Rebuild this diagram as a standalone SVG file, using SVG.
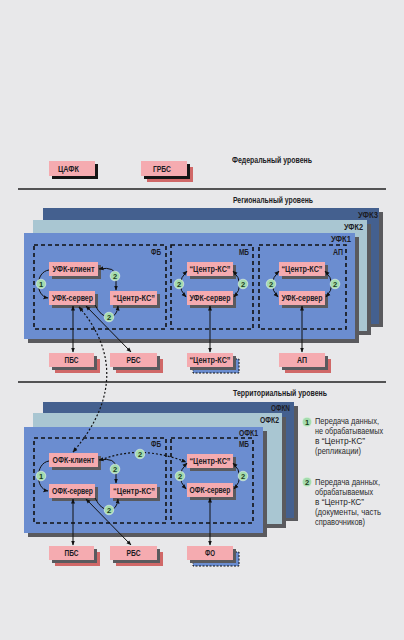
<svg xmlns="http://www.w3.org/2000/svg" width="404" height="640" viewBox="0 0 404 640">
<defs>
<marker id="ah" viewBox="0 0 10 10" refX="9" refY="5" markerWidth="5" markerHeight="5" orient="auto-start-reverse" markerUnits="userSpaceOnUse">
<path d="M0,1 L10,5 L0,9 Z" fill="#111"/>
</marker>
<style>
text{font-family:"Liberation Sans",Arial,sans-serif;fill:#1c1c24}
.lvl{font-size:9px;font-weight:bold}
.pl{font-size:9px;font-weight:bold}
.nt{font-size:8.6px;font-weight:bold}
.lg{font-size:9px;fill:#2a2a2a}
.bt{font-size:7.5px;font-weight:bold;text-anchor:middle;fill:#1a3a20}
.node{fill:#f5abb0}
.sh{fill:#5a5a5e}
.shk{fill:#151515}
.shr{fill:#d06868}
.shb{fill:#6b8dd0;stroke:#111;stroke-width:1;stroke-dasharray:2,1.5}
.dash{fill:none;stroke:#111;stroke-width:1.6;stroke-dasharray:4,3}
.c{fill:none;stroke:#111;stroke-width:1}
.cd{fill:none;stroke:#111;stroke-width:1.2;stroke-dasharray:2,2}
.badge{fill:#a5dcae;stroke:#e8f4ea;stroke-width:0.6}
.hl{stroke:#222;stroke-width:1.6}
</style>
</defs>
<rect width="404" height="640" fill="#e8e8ea"/>

<!-- level lines and labels -->
<g id="levels">
<text class="lvl" x="232" y="163" textLength="80" lengthAdjust="spacingAndGlyphs">Федеральный уровень</text>
<line class="hl" x1="18" y1="189" x2="386" y2="189"/>
<text class="lvl" x="233" y="203" textLength="80" lengthAdjust="spacingAndGlyphs">Региональный уровень</text>
<line class="hl" x1="18" y1="382" x2="386" y2="382"/>
<text class="lvl" x="233" y="396" textLength="94" lengthAdjust="spacingAndGlyphs">Территориальный уровень</text>
</g>

<!-- regional panels -->
<g id="ufk3"><rect x="47" y="212" width="336" height="115" class="sh"/><rect x="43" y="208" width="336" height="116" fill="#44608f"/><text class="pl" x="358" y="218" textLength="20" lengthAdjust="spacingAndGlyphs">УФК3</text></g>
<g id="ufk2"><rect x="37" y="224" width="334" height="111" class="sh"/><rect x="33" y="220" width="334" height="111" fill="#a9c6d2"/><text class="pl" x="344" y="230" textLength="19" lengthAdjust="spacingAndGlyphs">УФК2</text></g>
<g id="ufk1"><rect x="28" y="237" width="331" height="106" class="sh"/><rect x="24" y="233" width="331" height="106" fill="#6b8dd0"/><text class="pl" x="331" y="242" textLength="20" lengthAdjust="spacingAndGlyphs">УФК1</text></g>

<g id="r-fb"><rect x="34" y="245" width="132" height="84" class="dash"/><text class="pl" x="151" y="255" textLength="10" lengthAdjust="spacingAndGlyphs">ФБ</text></g>
<g id="r-mb"><rect x="171" y="245" width="82" height="84" class="dash"/><text class="pl" x="239" y="255" textLength="10" lengthAdjust="spacingAndGlyphs">МБ</text></g>
<g id="r-ap"><rect x="259" y="245" width="87" height="84" class="dash"/><text class="pl" x="333" y="255" textLength="10" lengthAdjust="spacingAndGlyphs">АП</text></g>

<!-- territorial panels -->
<g id="ofkn"><rect x="47" y="406" width="251" height="115" class="sh"/><rect x="43" y="402" width="251" height="116" fill="#44608f"/><text class="pl" x="271" y="411" textLength="19" lengthAdjust="spacingAndGlyphs">ОФКN</text></g>
<g id="ofk2"><rect x="37" y="417" width="249" height="111" class="sh"/><rect x="33" y="413" width="249" height="111" fill="#a9c6d2"/><text class="pl" x="260" y="423" textLength="19" lengthAdjust="spacingAndGlyphs">ОФК2</text></g>
<g id="ofk1"><rect x="28" y="431" width="239" height="106" class="sh"/><rect x="24" y="427" width="239" height="106" fill="#6b8dd0"/><text class="pl" x="239" y="436" textLength="19" lengthAdjust="spacingAndGlyphs">ОФК1</text></g>

<g id="t-fb"><rect x="34" y="438" width="132" height="85" class="dash"/><text class="pl" x="151" y="447" textLength="10" lengthAdjust="spacingAndGlyphs">ФБ</text></g>
<g id="t-mb"><rect x="171" y="438" width="82" height="85" class="dash"/><text class="pl" x="239" y="447" textLength="10" lengthAdjust="spacingAndGlyphs">МБ</text></g>

<!-- federal nodes -->
<g id="tsafk"><rect x="52" y="164" width="46" height="15" class="shk"/><rect x="49" y="161" width="46" height="15" class="node"/><text class="nt" x="58" y="172" textLength="21" lengthAdjust="spacingAndGlyphs">ЦАФК</text></g>
<g id="grbs"><rect x="147" y="167" width="46" height="15" class="shr"/><rect x="144" y="164" width="46" height="15" class="shk"/><rect x="141" y="161" width="46" height="15" class="node"/><text class="nt" x="153" y="172" textLength="18" lengthAdjust="spacingAndGlyphs">ГРБС</text></g>

<!-- regional nodes -->
<g id="r-client"><rect x="52" y="265" width="49" height="14" class="sh"/><rect x="49" y="262" width="49" height="14" class="node"/><text class="nt" x="52.5" y="272" textLength="42" lengthAdjust="spacingAndGlyphs">УФК-клиент</text></g>
<g id="r-server"><rect x="52" y="294" width="46" height="14" class="sh"/><rect x="49" y="291" width="46" height="14" class="node"/><text class="nt" x="52" y="301" textLength="41" lengthAdjust="spacingAndGlyphs">УФК-сервер</text></g>
<g id="r-cks"><rect x="113" y="294" width="47" height="14" class="sh"/><rect x="110" y="291" width="47" height="14" class="node"/><text class="nt" x="113" y="301" textLength="42" lengthAdjust="spacingAndGlyphs">“Центр-КС”</text></g>
<g id="r-mb-cks"><rect x="190" y="265" width="46" height="14" class="sh"/><rect x="187" y="262" width="46" height="14" class="node"/><text class="nt" x="189.5" y="272" textLength="41" lengthAdjust="spacingAndGlyphs">“Центр-КС”</text></g>
<g id="r-mb-server"><rect x="190" y="294" width="46" height="14" class="sh"/><rect x="187" y="291" width="46" height="14" class="node"/><text class="nt" x="189.5" y="301" textLength="41" lengthAdjust="spacingAndGlyphs">УФК-сервер</text></g>
<g id="r-ap-cks"><rect x="282" y="265" width="46" height="14" class="sh"/><rect x="279" y="262" width="46" height="14" class="node"/><text class="nt" x="281.5" y="272" textLength="41" lengthAdjust="spacingAndGlyphs">“Центр-КС”</text></g>
<g id="r-ap-server"><rect x="282" y="294" width="46" height="14" class="sh"/><rect x="279" y="291" width="46" height="14" class="node"/><text class="nt" x="281.5" y="301" textLength="41" lengthAdjust="spacingAndGlyphs">УФК-сервер</text></g>

<g id="r-pbs"><rect x="55" y="359" width="45" height="14" class="shr"/><rect x="52" y="356" width="45" height="14" class="sh"/><rect x="49" y="353" width="45" height="14" class="node"/><text class="nt" x="64.5" y="363" textLength="14" lengthAdjust="spacingAndGlyphs">ПБС</text></g>
<g id="r-rbs"><rect x="116" y="359" width="47" height="14" class="shr"/><rect x="113" y="356" width="47" height="14" class="sh"/><rect x="110" y="353" width="47" height="14" class="node"/><text class="nt" x="126.5" y="363" textLength="14" lengthAdjust="spacingAndGlyphs">РБС</text></g>
<g id="r-cks-out"><rect x="193" y="359" width="46" height="14" class="shb"/><rect x="190" y="356" width="46" height="14" class="sh"/><rect x="187" y="353" width="46" height="14" class="node"/><text class="nt" x="189.5" y="363" textLength="41" lengthAdjust="spacingAndGlyphs">“Центр-КС”</text></g>
<g id="r-ap-out"><rect x="285" y="359" width="46" height="14" class="shr"/><rect x="282" y="356" width="46" height="14" class="sh"/><rect x="279" y="353" width="46" height="14" class="node"/><text class="nt" x="297" y="363" textLength="10" lengthAdjust="spacingAndGlyphs">АП</text></g>

<!-- territorial nodes -->
<g id="t-client"><rect x="52" y="456" width="49" height="14" class="sh"/><rect x="49" y="453" width="49" height="14" class="node"/><text class="nt" x="52.5" y="463" textLength="42" lengthAdjust="spacingAndGlyphs">ОФК-клиент</text></g>
<g id="t-server"><rect x="52" y="487" width="46" height="14" class="sh"/><rect x="49" y="484" width="46" height="14" class="node"/><text class="nt" x="52" y="494" textLength="41" lengthAdjust="spacingAndGlyphs">ОФК-сервер</text></g>
<g id="t-cks"><rect x="113" y="487" width="47" height="14" class="sh"/><rect x="110" y="484" width="47" height="14" class="node"/><text class="nt" x="113" y="494" textLength="42" lengthAdjust="spacingAndGlyphs">“Центр-КС”</text></g>
<g id="t-mb-cks"><rect x="190" y="457" width="46" height="14" class="sh"/><rect x="187" y="454" width="46" height="14" class="node"/><text class="nt" x="189.5" y="464" textLength="41" lengthAdjust="spacingAndGlyphs">“Центр-КС”</text></g>
<g id="t-mb-server"><rect x="190" y="486" width="46" height="14" class="sh"/><rect x="187" y="483" width="46" height="14" class="node"/><text class="nt" x="189.5" y="493" textLength="41" lengthAdjust="spacingAndGlyphs">ОФК-сервер</text></g>

<g id="t-pbs"><rect x="55" y="552" width="45" height="14" class="shr"/><rect x="52" y="549" width="45" height="14" class="sh"/><rect x="49" y="546" width="45" height="14" class="node"/><text class="nt" x="64.5" y="556" textLength="14" lengthAdjust="spacingAndGlyphs">ПБС</text></g>
<g id="t-rbs"><rect x="116" y="552" width="47" height="14" class="shr"/><rect x="113" y="549" width="47" height="14" class="sh"/><rect x="110" y="546" width="47" height="14" class="node"/><text class="nt" x="126.5" y="556" textLength="14" lengthAdjust="spacingAndGlyphs">РБС</text></g>
<g id="t-fo"><rect x="193" y="552" width="46" height="14" class="shb"/><rect x="190" y="549" width="46" height="14" class="sh"/><rect x="187" y="546" width="46" height="14" class="node"/><text class="nt" x="205" y="556" textLength="10" lengthAdjust="spacingAndGlyphs">ФО</text></g>

<!-- connectors -->
<g id="connectors">
<path class="c" d="M49,270 C35,272 35,296 48,298" marker-end="url(#ah)"/>
<path class="c" d="M99,269 Q116,266 116,277 L116,290" marker-start="url(#ah)" marker-end="url(#ah)"/>
<path class="c" d="M95,305 Q101,317 109,317 Q117,317 118,306" marker-end="url(#ah)"/>
<path class="c" d="M73,306 L73,352" marker-start="url(#ah)" marker-end="url(#ah)"/>
<path class="c" d="M86,306 L131,352" marker-start="url(#ah)" marker-end="url(#ah)"/>
<path class="cd" d="M79,307 C112,345 122,395 73,452" marker-start="url(#ah)" marker-end="url(#ah)"/>
<path class="c" d="M187,271 Q174,284 186,297" marker-start="url(#ah)" marker-end="url(#ah)"/>
<path class="c" d="M233,271 Q246,284 234,297" marker-start="url(#ah)" marker-end="url(#ah)"/>
<path class="c" d="M210,306 L210,352" marker-start="url(#ah)" marker-end="url(#ah)"/>
<path class="c" d="M279,271 Q266,284 278,297" marker-start="url(#ah)" marker-end="url(#ah)"/>
<path class="c" d="M325,271 Q338,284 326,297" marker-start="url(#ah)" marker-end="url(#ah)"/>
<path class="c" d="M302,306 L302,352" marker-start="url(#ah)" marker-end="url(#ah)"/>

<path class="c" d="M49,461 C35,463 35,489 48,491" marker-end="url(#ah)"/>
<path class="c" d="M99,460 Q116,457 116,468 L116,483" marker-start="url(#ah)" marker-end="url(#ah)"/>
<path class="c" d="M95,498 Q101,510 109,510 Q117,510 118,499" marker-end="url(#ah)"/>
<path class="cd" d="M101,460 Q140,444 186,462" marker-end="url(#ah)"/>
<path class="c" d="M73,499 L73,545" marker-start="url(#ah)" marker-end="url(#ah)"/>
<path class="c" d="M86,499 L131,545" marker-start="url(#ah)" marker-end="url(#ah)"/>
<path class="c" d="M187,463 Q174,476 186,489" marker-start="url(#ah)" marker-end="url(#ah)"/>
<path class="c" d="M233,463 Q246,476 234,489" marker-start="url(#ah)" marker-end="url(#ah)"/>
<path class="c" d="M210,498 L210,545" marker-start="url(#ah)" marker-end="url(#ah)"/>
</g>

<!-- badges -->
<g id="badges">
<circle class="badge" cx="41" cy="284" r="4.8"/><text class="bt" x="41" y="286.8">1</text>
<circle class="badge" cx="115" cy="276" r="4.8"/><text class="bt" x="115" y="278.8">2</text>
<circle class="badge" cx="109" cy="317" r="4.8"/><text class="bt" x="109" y="319.8">2</text>
<circle class="badge" cx="179" cy="284" r="4.8"/><text class="bt" x="179" y="286.8">2</text>
<circle class="badge" cx="243" cy="284" r="4.8"/><text class="bt" x="243" y="286.8">2</text>
<circle class="badge" cx="271" cy="284" r="4.8"/><text class="bt" x="271" y="286.8">2</text>
<circle class="badge" cx="335" cy="284" r="4.8"/><text class="bt" x="335" y="286.8">2</text>
<circle class="badge" cx="41" cy="476" r="4.8"/><text class="bt" x="41" y="478.8">1</text>
<circle class="badge" cx="115" cy="469" r="4.8"/><text class="bt" x="115" y="471.8">2</text>
<circle class="badge" cx="109" cy="510" r="4.8"/><text class="bt" x="109" y="512.8">2</text>
<circle class="badge" cx="140" cy="454" r="4.8"/><text class="bt" x="140" y="456.8">2</text>
<circle class="badge" cx="180" cy="476" r="4.8"/><text class="bt" x="180" y="478.8">2</text>
<circle class="badge" cx="243" cy="476" r="4.8"/><text class="bt" x="243" y="478.8">2</text>
</g>

<!-- legend -->
<g id="legend">
<circle class="badge" cx="307" cy="422" r="4.8"/><text class="bt" x="307" y="424.8">1</text>
<text class="lg" x="315" y="424" textLength="64" lengthAdjust="spacingAndGlyphs">Передача данных,</text>
<text class="lg" x="315" y="434" textLength="68" lengthAdjust="spacingAndGlyphs">не обрабатываемых</text>
<text class="lg" x="315" y="444" textLength="50" lengthAdjust="spacingAndGlyphs">в “Центр-КС”</text>
<text class="lg" x="315" y="454" textLength="46" lengthAdjust="spacingAndGlyphs">(репликации)</text>
<circle class="badge" cx="307" cy="482" r="4.8"/><text class="bt" x="307" y="484.8">2</text>
<text class="lg" x="315" y="485" textLength="65" lengthAdjust="spacingAndGlyphs">Передача данных,</text>
<text class="lg" x="315" y="495" textLength="58" lengthAdjust="spacingAndGlyphs">обрабатываемых</text>
<text class="lg" x="315" y="505" textLength="49" lengthAdjust="spacingAndGlyphs">в “Центр-КС”</text>
<text class="lg" x="315" y="515" textLength="66" lengthAdjust="spacingAndGlyphs">(документы, часть</text>
<text class="lg" x="315" y="525" textLength="50" lengthAdjust="spacingAndGlyphs">справочников)</text>
</g>
</svg>
